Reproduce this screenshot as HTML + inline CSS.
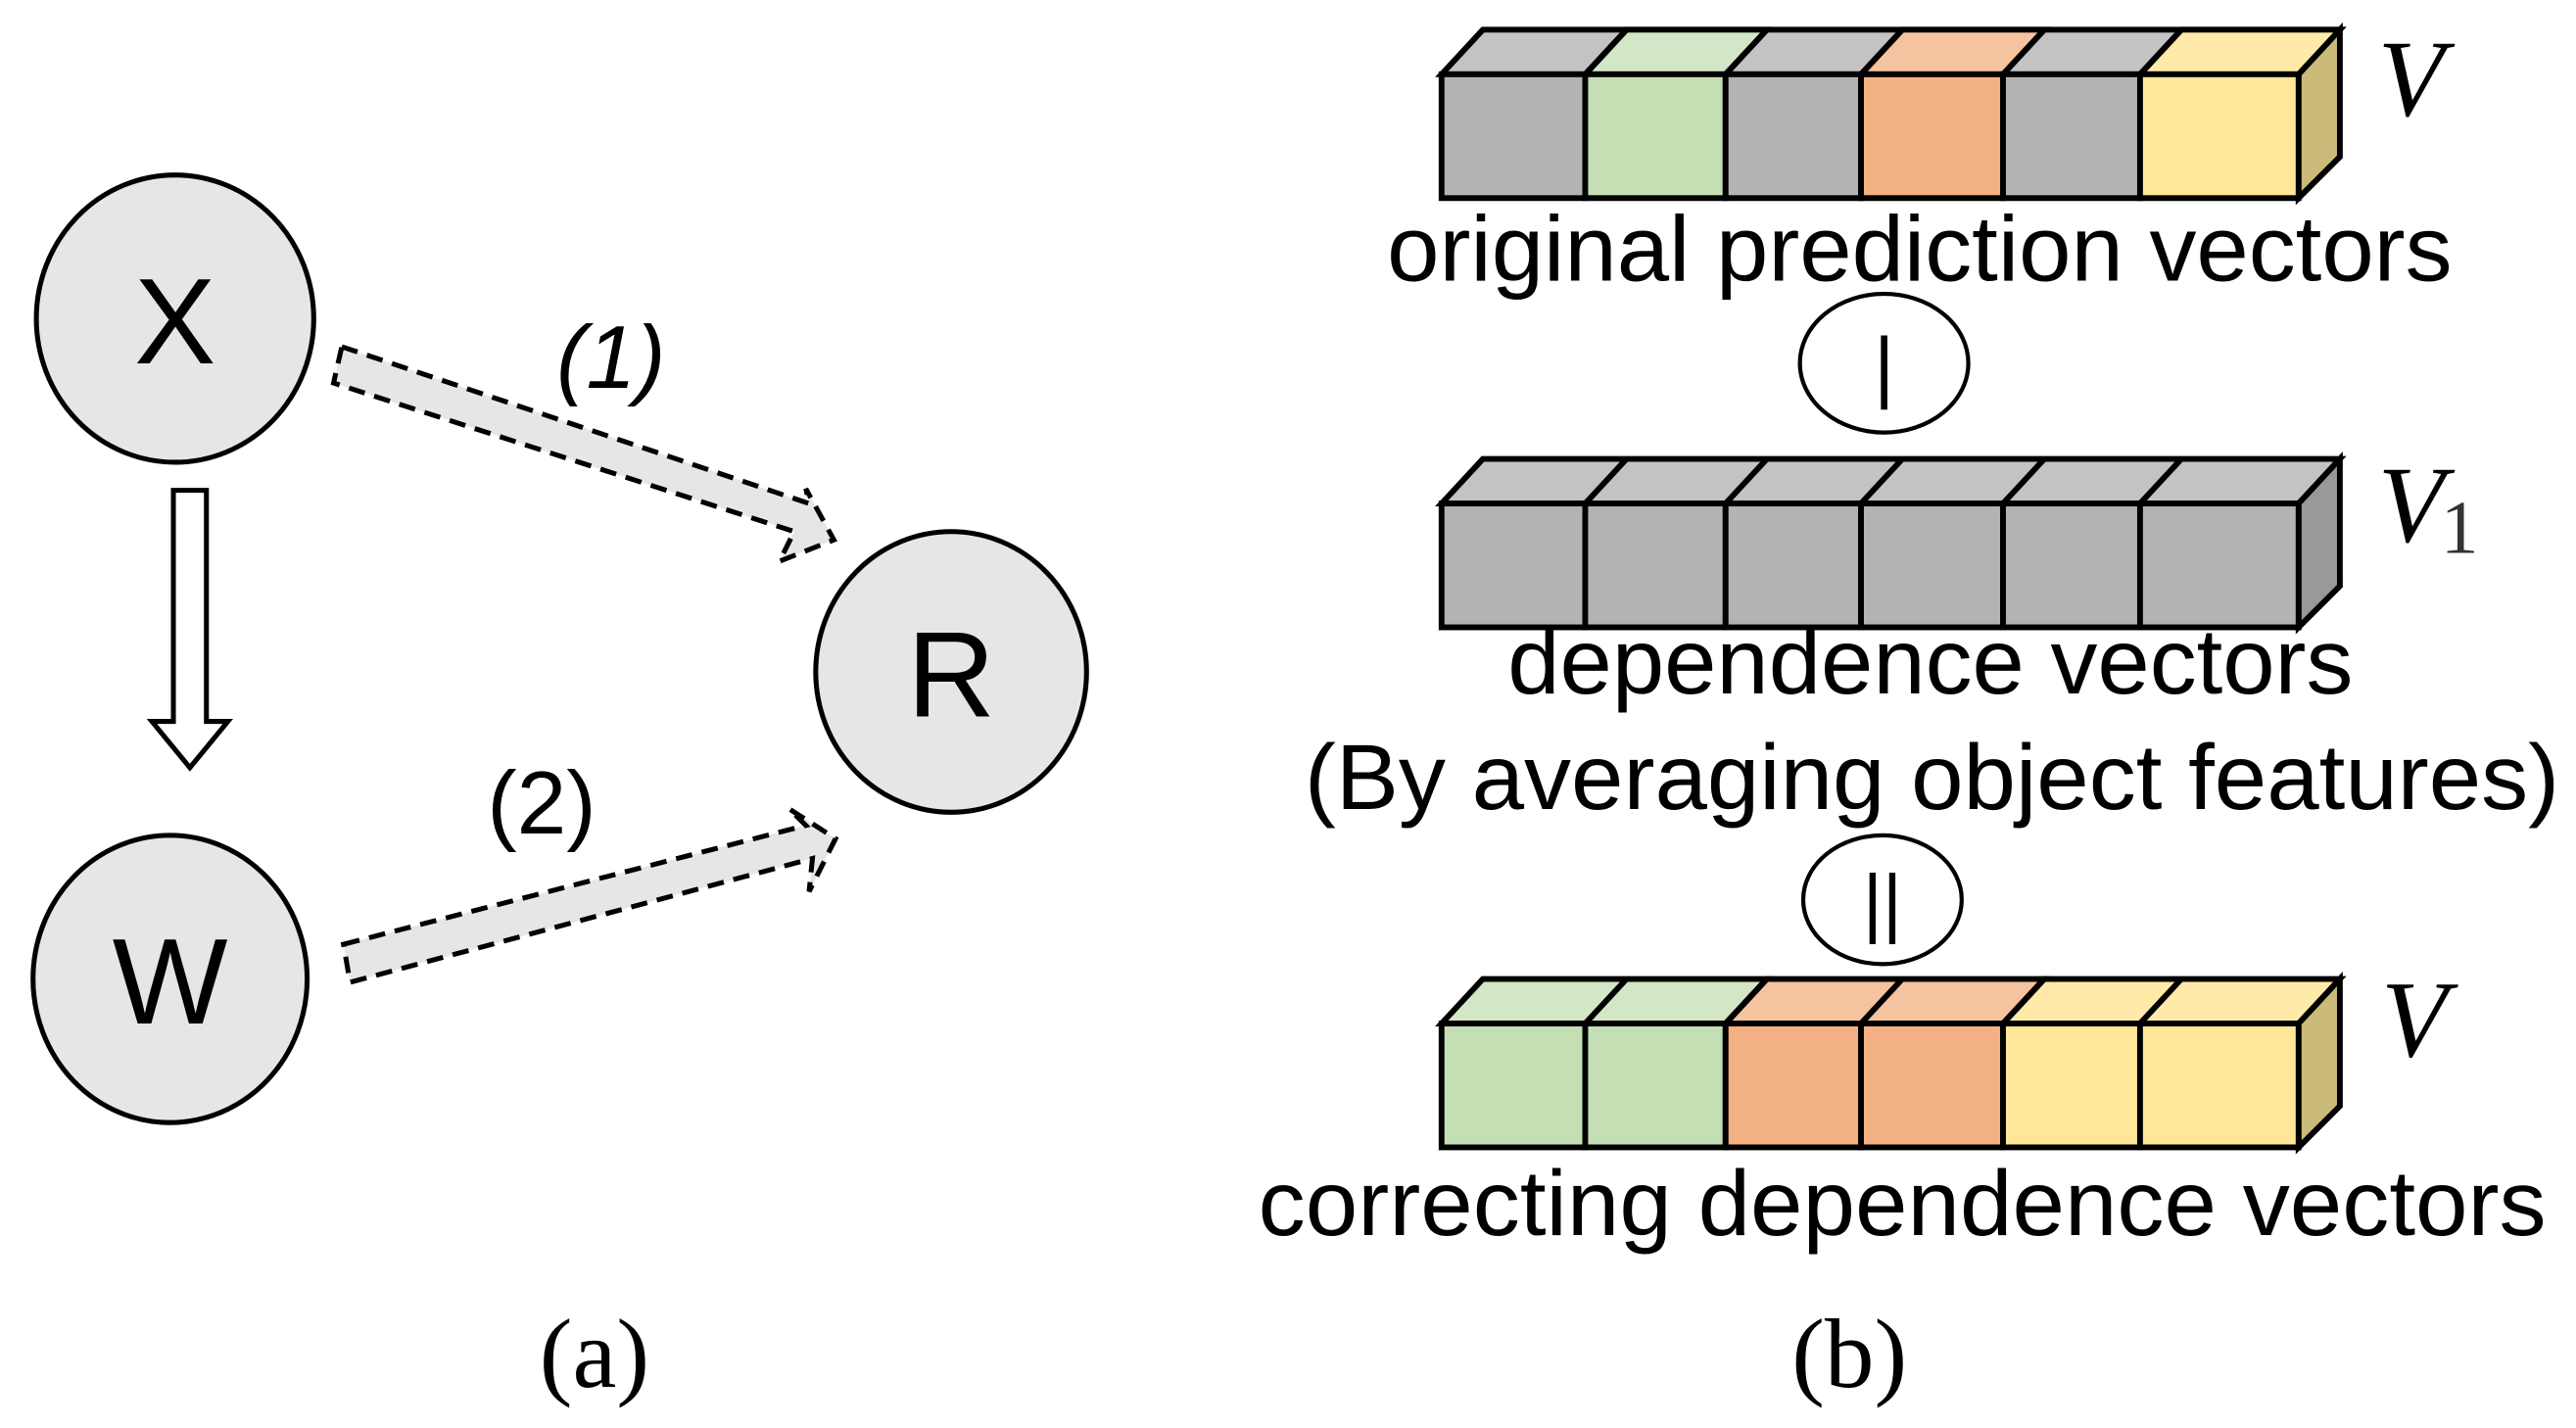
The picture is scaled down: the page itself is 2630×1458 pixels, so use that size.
<!DOCTYPE html>
<html><head><meta charset="utf-8"><style>html,body{margin:0;padding:0;background:#fff}svg{display:block}</style></head><body>
<svg width="2630" height="1458" viewBox="0 0 1560 865" preserveAspectRatio="none" xmlns="http://www.w3.org/2000/svg">
<g stroke="#000" stroke-width="3">
<ellipse cx="106" cy="193" rx="84" ry="87" fill="#e6e6e6"/>
<ellipse cx="103" cy="593" rx="83" ry="87" fill="#e6e6e6"/>
<ellipse cx="576" cy="407" rx="82" ry="85" fill="#e6e6e6"/>
<polygon points="105,297 125,297 125,437 138,437 115,465 92,437 105,437" fill="#fff" stroke-width="3"/>
<polygon points="207,210 490,305 488,296 505,327 472,340 481,322 202,232" fill="#e6e6e6" stroke-dasharray="10,6" stroke-width="3"/>
<polygon points="208,572 488,500 478,490 506,508 490,540 492,520 212,595" fill="#e6e6e6" stroke-dasharray="10,6" stroke-width="3"/>
</g>
<g font-family="Liberation Sans, sans-serif" fill="#000">
<text x="106" y="220" font-size="74" text-anchor="middle">X</text>
<text x="103" y="620" font-size="74" text-anchor="middle">W</text>
<text x="576" y="434" font-size="74" text-anchor="middle">R</text>
<text x="370" y="235" font-size="54" font-style="italic" text-anchor="middle">(1)</text>
<text x="328" y="505" font-size="54" text-anchor="middle">(2)</text>
</g>
<g stroke="#000" stroke-width="3.5">
<g>
<polygon points="873,45 898,18 1417,18 1392,45" fill="#c3c3c3"/>
<polygon points="960,45 985,18 1070,18 1045,45" fill="#d3e6c6"/>
<polygon points="1127,45 1152,18 1238,18 1213,45" fill="#f6c3a0"/>
<polygon points="1296,45 1321,18 1417,18 1392,45" fill="#ffeaaa"/>
<polygon points="1392,45 1417,18 1417,95 1392,120" fill="#cbbb7a"/>
<rect x="873" y="45" width="87" height="75" fill="#b3b3b3"/>
<rect x="960" y="45" width="85" height="75" fill="#c5dfb4"/>
<rect x="1045" y="45" width="82" height="75" fill="#b3b3b3"/>
<rect x="1127" y="45" width="86" height="75" fill="#f4b183"/>
<rect x="1213" y="45" width="83" height="75" fill="#b3b3b3"/>
<rect x="1296" y="45" width="96" height="75" fill="#ffe699"/>
<path d="M985,18 L960,45 M1070,18 L1045,45 M1152,18 L1127,45 M1238,18 L1213,45 M1321,18 L1296,45" fill="none"/>
</g>
<g>
<polygon points="873,305 898,278 1417,278 1392,305" fill="#c3c3c3"/>
<polygon points="1392,305 1417,278 1417,355 1392,380" fill="#999"/>
<rect x="873" y="305" width="87" height="75" fill="#b3b3b3"/>
<rect x="960" y="305" width="85" height="75" fill="#b3b3b3"/>
<rect x="1045" y="305" width="82" height="75" fill="#b3b3b3"/>
<rect x="1127" y="305" width="86" height="75" fill="#b3b3b3"/>
<rect x="1213" y="305" width="83" height="75" fill="#b3b3b3"/>
<rect x="1296" y="305" width="96" height="75" fill="#b3b3b3"/>
<path d="M985,278 L960,305 M1070,278 L1045,305 M1152,278 L1127,305 M1238,278 L1213,305 M1321,278 L1296,305" fill="none"/>
</g>
<g>
<polygon points="873,620 898,593 1070,593 1045,620" fill="#d3e6c6"/>
<polygon points="1045,620 1070,593 1238,593 1213,620" fill="#f6c3a0"/>
<polygon points="1213,620 1238,593 1417,593 1392,620" fill="#ffeaaa"/>
<polygon points="1392,620 1417,593 1417,670 1392,695" fill="#cbbb7a"/>
<rect x="873" y="620" width="87" height="75" fill="#c5dfb4"/>
<rect x="960" y="620" width="85" height="75" fill="#c5dfb4"/>
<rect x="1045" y="620" width="82" height="75" fill="#f4b183"/>
<rect x="1127" y="620" width="86" height="75" fill="#f4b183"/>
<rect x="1213" y="620" width="83" height="75" fill="#ffe699"/>
<rect x="1296" y="620" width="96" height="75" fill="#ffe699"/>
<path d="M985,593 L960,620 M1070,593 L1045,620 M1152,593 L1127,620 M1238,593 L1213,620 M1321,593 L1296,620" fill="none"/>
</g>
<ellipse cx="1141" cy="220" rx="51" ry="42" fill="#fff" stroke-width="2.5"/>
<ellipse cx="1140" cy="545" rx="48" ry="39" fill="#fff" stroke-width="2.5"/>
</g>
<g font-family="Liberation Serif, serif" font-style="italic" fill="#000">
<text x="1440" y="70" font-size="66">V</text>
<text x="1440" y="328" font-size="66">V</text>
<text x="1478" y="335" font-size="46" font-style="normal" fill="#333">1</text>
<text x="1442" y="640" font-size="66">V</text>
</g>
<g font-family="Liberation Sans, sans-serif" fill="#000" font-size="56">
<text x="840" y="170" textLength="645" lengthAdjust="spacingAndGlyphs">original prediction vectors</text>
<text x="913" y="420" textLength="512" lengthAdjust="spacingAndGlyphs">dependence vectors</text>
<text x="790" y="490" textLength="760" lengthAdjust="spacingAndGlyphs">(By averaging object features)</text>
<text x="762" y="748" textLength="780" lengthAdjust="spacingAndGlyphs">correcting dependence vectors</text>
<text x="1141" y="238" font-size="48" text-anchor="middle">|</text>
<text x="1140" y="562" font-size="46" text-anchor="middle">||</text>
</g>
<g font-family="Liberation Serif, serif" fill="#000" font-size="60">
<text x="360" y="840" text-anchor="middle">(a)</text>
<text x="1120" y="840" text-anchor="middle">(b)</text>
</g>
</svg>
</body></html>
